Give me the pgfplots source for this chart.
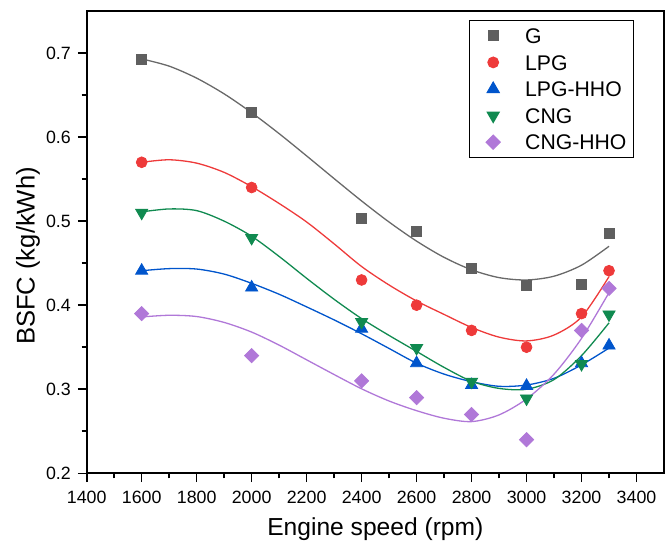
\documentclass[border=0pt]{standalone}
\usepackage{fontspec}
\setmainfont{Liberation Sans}
\usepackage{pgfplots}
\pgfplotsset{compat=1.18}
\definecolor{cG}{RGB}{95,95,95}
\definecolor{cGl}{RGB}{105,105,105}
\definecolor{cLPG}{RGB}{238,58,58}
\definecolor{cLH}{RGB}{0,85,204}
\definecolor{cCNG}{RGB}{16,138,80}
\definecolor{cCH}{RGB}{176,120,216}
\begin{document}
\begin{tikzpicture}
\path[use as bounding box] (-43.35pt,-35.85pt) rectangle (292.65pt,236.65pt);
\begin{axis}[
  scale only axis,
  width=288.65pt, height=231.15pt,
  xmin=1400, xmax=3500, ymin=0.2, ymax=0.75,
  xtick={1400,1600,...,3400},
  ytick={0.2,0.3,...,0.7},
  minor x tick num=1, minor y tick num=1,
  xtick pos=bottom, ytick pos=left,
  tick align=outside,
  major tick length=4.4pt, minor tick length=2.5pt,
  axis line style={line width=1pt},
  every tick/.style={line width=0.8pt, black},
  /pgf/number format/assume math mode=true,
  tick label style={font=\fontsize{8.9}{10}\selectfont},
  xticklabel style={/pgf/number format/set thousands separator={}, yshift=-1pt},
  yticklabel style={/pgf/number format/fixed, /pgf/number format/precision=1, /pgf/number format/fixed zerofill},
  scaled y ticks=false,
  xlabel={Engine speed (rpm)},
  ylabel={BSFC (kg/kWh)},
  xlabel style={font=\fontsize{12.3}{14}\selectfont, at={(axis description cs:0.5,-0.1207)}, anchor=center},
  ylabel style={font=\fontsize{12.8}{14}\selectfont, at={(axis description cs:-0.1017,0.47)}, anchor=center},
  legend style={draw=black, line width=0.5pt, at={(axis description cs:0.948,0.9805)}, anchor=north east,
    font=\fontsize{10.6}{12}\selectfont, inner xsep=3.5pt, inner ysep=1pt,
    nodes={inner xsep=0pt, inner ysep=2.8pt, text height=7.7pt, text depth=0pt},
    /tikz/column sep=0pt},
  legend cell align=left,
  legend image code/.code={\path[draw=none,fill=none] (-8.5pt,0pt) rectangle (16pt,0pt); \draw[#1] plot coordinates {(0pt,0pt)};},
]
% fitted curves
\addplot[smooth, cGl, line width=0.65pt, forget plot] coordinates {
(1600,0.6930) (1700,0.6844) (1800,0.6701) (1900,0.6514) (2000,0.6290) (2100,0.6041) (2200,0.5776) (2300,0.5506) (2400,0.5240) (2500,0.4989) (2600,0.4762) (2700,0.4569) (2800,0.4421) (2900,0.4328) (3000,0.4300) (3100,0.4345) (3200,0.4476) (3300,0.4701)};
\addplot[smooth, cLPG, line width=0.65pt, forget plot] coordinates {
(1600,0.570) (1700,0.573) (1800,0.569) (1900,0.558) (2000,0.541) (2100,0.521) (2200,0.499) (2300,0.473) (2400,0.446) (2500,0.424) (2600,0.405) (2700,0.389) (2800,0.3735) (2900,0.362) (3000,0.3575) (3100,0.3645) (3200,0.386) (3300,0.434)};
\addplot[smooth, cLH, line width=0.65pt, forget plot] coordinates {
(1600,0.441) (1700,0.4435) (1800,0.443) (1900,0.437) (2000,0.426) (2100,0.413) (2200,0.398) (2300,0.3825) (2400,0.366) (2500,0.3485) (2600,0.331) (2700,0.318) (2800,0.309) (2900,0.3035) (3000,0.305) (3100,0.313) (3200,0.329) (3300,0.349)};
\addplot[smooth, cCNG, line width=0.65pt, forget plot] coordinates {
(1600,0.511) (1700,0.5145) (1800,0.5125) (1900,0.500) (2000,0.482) (2100,0.458) (2200,0.432) (2300,0.407) (2400,0.384) (2500,0.364) (2600,0.345) (2700,0.326) (2800,0.3095) (2900,0.301) (3000,0.300) (3100,0.3115) (3200,0.340) (3300,0.379)};
\addplot[smooth, cCH, line width=0.65pt, forget plot] coordinates {
(1600,0.386) (1700,0.388) (1800,0.3865) (1900,0.3795) (2000,0.368) (2100,0.3525) (2200,0.335) (2300,0.3175) (2400,0.3005) (2500,0.286) (2600,0.2745) (2700,0.2655) (2800,0.2615) (2900,0.2695) (3000,0.2885) (3100,0.318) (3200,0.3605) (3300,0.415)};
% data points
\addplot[only marks, mark=square*, mark size=2.5pt, mark options={fill=cG, draw=cG}] coordinates {
(1600,0.693) (2000,0.629) (2400,0.503) (2600,0.488) (2800,0.444) (3000,0.423) (3200,0.425) (3300,0.486)};
\addlegendentry{G}
\addplot[only marks, mark=*, mark size=2.7pt, mark options={fill=cLPG, draw=cLPG}] coordinates {
(1600,0.570) (2000,0.540) (2400,0.430) (2600,0.400) (2800,0.370) (3000,0.350) (3200,0.390) (3300,0.441)};
\addlegendentry{LPG}
\addplot[only marks, mark=triangle*, mark size=3.5pt, mark options={fill=cLH, draw=cLH}] coordinates {
(1600,0.441) (2000,0.421) (2400,0.372) (2600,0.331) (2800,0.305) (3000,0.304) (3200,0.331) (3300,0.352)};
\addlegendentry{LPG-HHO}
\addplot[only marks, mark=triangle*, mark size=3.5pt, mark options={fill=cCNG, draw=cCNG, rotate=180}] coordinates {
(1600,0.510) (2000,0.480) (2400,0.380) (2600,0.349) (2800,0.309) (3000,0.289) (3200,0.330) (3300,0.389)};
\addlegendentry{CNG}
\addplot[only marks, mark=square*, mark size=2.5pt, mark options={fill=cCH, draw=cCH, rotate=45}] coordinates {
(1600,0.390) (2000,0.340) (2400,0.310) (2600,0.290) (2800,0.270) (3000,0.240) (3200,0.370) (3300,0.420)};
\addlegendentry{CNG-HHO}
\end{axis}
\end{tikzpicture}
\end{document}
